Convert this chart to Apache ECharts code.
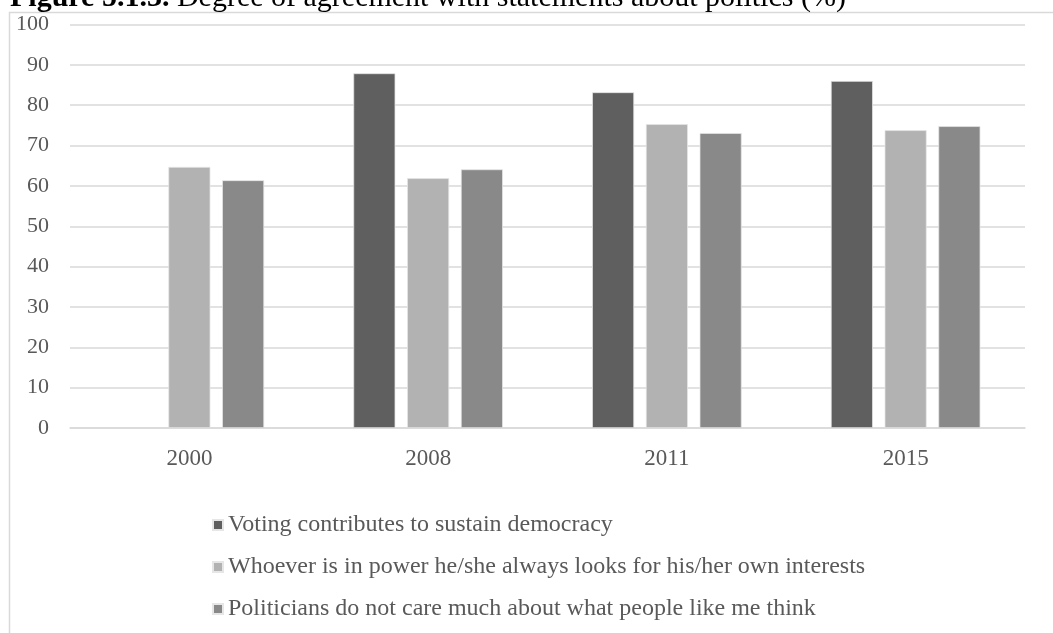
<!DOCTYPE html>
<html><head><meta charset="utf-8">
<script src="https://cdn.jsdelivr.net/npm/echarts@6/dist/echarts.min.js"></script>
<style>html,body{margin:0;padding:0;background:#fff}#c{width:1053px;height:633px}</style>
</head><body><div id="c"></div>
<script>
const categories = ['2000', '2008', '2011', '2015'];
const seriesNames = [
  'Voting contributes to sustain democracy',
  'Whoever is in power he/she always looks for his/her own interests',
  'Politicians do not care much about what people like me think'
];
const voting = [null, 87.9, 83.2, 86.0];
const whoever = [64.7, 61.9, 75.3, 73.8];
const politicians = [61.4, 64.1, 73.1, 74.8];
const yTicks = [0, 10, 20, 30, 40, 50, 60, 70, 80, 90, 100];
const colors = ['#5f5f5f', '#b2b2b2', '#898989'];
const font = '"Liberation Serif", "Times New Roman", serif';

const chart = echarts.init(document.getElementById('c'), null, {renderer: 'canvas'});
const values = [voting, whoever, politicians];
chart.setOption({
  animation: false,
  backgroundColor: '#fff',
  textStyle: {fontFamily: font},
  graphic: [
    {type: 'rect', shape: {x: 9.5, y: 12.5, width: 1200, height: 800}, style: {fill: 'none', stroke: '#d9d9d9', lineWidth: 1.5}, z: 0},
    {type: 'text', left: 10, top: -17, style: {
      text: '{b|Figure 5.1.3.}{n| Degree of agreement with statements about politics (%)}',
      rich: {
        b: {fontFamily: font, fontSize: 30, fontWeight: 'bold', fill: '#000'},
        n: {fontFamily: font, fontSize: 30, fill: '#000'}
      }
    }, z: 10}
  ],
  grid: {left: 70, right: 28, top: 24.5, bottom: 205, containLabel: false},
  legend: {
    orient: 'vertical', left: 207, top: 508, itemGap: 18,
    itemWidth: 10, itemHeight: 10, icon: 'rect',
    data: seriesNames,
    textStyle: {fontFamily: font, fontSize: 24, color: '#595959'}
  },
  xAxis: {
    type: 'category', data: categories,
    axisLine: {lineStyle: {color: '#d9d9d9', width: 1.5}},
    axisTick: {show: false},
    axisLabel: {fontFamily: font, fontSize: 23, color: '#595959', margin: 19}
  },
  yAxis: {
    type: 'value', min: 0, max: 100, interval: 10,
    axisLine: {show: false}, axisTick: {show: false},
    splitLine: {lineStyle: {color: '#d9d9d9', width: 1.5}},
    axisLabel: {fontFamily: font, fontSize: 22, color: '#595959', margin: 21,
      formatter: v => yTicks.includes(v) ? String(v) : ''}
  },
  series: seriesNames.map((n, i) => ({
    name: n, type: 'bar', data: values[i],
    barWidth: 42, barGap: '28%',
    itemStyle: {color: colors[i], borderColor: '#e6e6e6', borderWidth: 0.75}
  }))
});
</script></body></html>
